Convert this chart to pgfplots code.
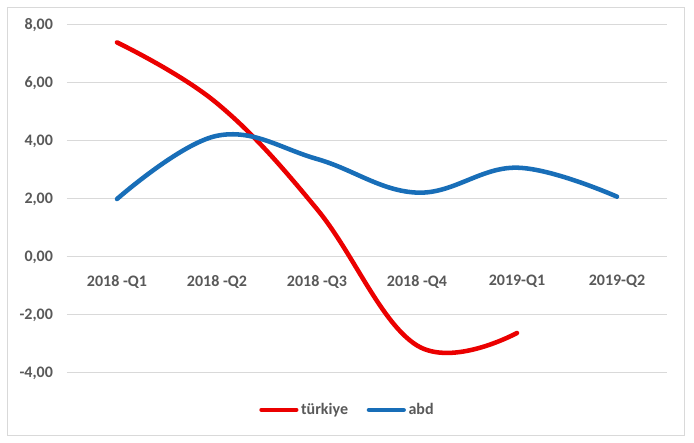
\documentclass[border=0pt]{standalone}
\usepackage{pgfplots}
\pgfplotsset{compat=1.18}
\usepackage{fontspec}
\setmainfont{Carlito}
\definecolor{tred}{RGB}{235,0,0}
\definecolor{abdblue}{RGB}{24,110,184}
\definecolor{lbl}{RGB}{89,89,89}
\definecolor{gridc}{RGB}{217,217,217}
\begin{document}
\begin{tikzpicture}
\fill[white] (0pt,0pt) rectangle (520.5pt,332.25pt);
\draw[gridc, line width=0.75pt] (5.25pt,5.25pt) rectangle (513pt,326.25pt);
\begin{axis}[
  at={(50.25pt,52.5pt)}, anchor=south west,
  scale only axis, width=450pt, height=261pt,
  xmin=-0.5, xmax=5.5, ymin=-4, ymax=8,
  xtick={0,1,2,3,4,5},
  xticklabels={2018 -Q1,2018 -Q2,2018 -Q3,2018 -Q4,2019-Q1,2019-Q2},
  ytick={-4,-2,0,2,4,6,8},
  axis x line*=middle,
  axis y line*=left,
  y axis line style={draw=none},
  x axis line style={gridc, line width=0.75pt, -},
  ymajorgrids, grid style={gridc, line width=0.75pt},
  major tick length=0pt,
  tick label style={font=\fontsize{12}{14}\selectfont\bfseries, text=lbl},
  /pgf/number format/assume math mode=true,
  yticklabel={\pgfmathprintnumber[fixed,fixed zerofill,precision=2,use comma]{\tick}},
  yticklabel style={anchor=east, xshift=-7pt},
  xticklabel style={anchor=north, yshift=-10pt},
  legend columns=2,
  legend style={at={(0.468,-0.106)}, anchor=center, draw=none, fill=none,
    font=\fontsize{12}{14}\selectfont\bfseries, text=lbl,
    /tikz/every even column/.append style={column sep=12pt},
    inner xsep=0pt, inner ysep=0pt},
  legend image code/.code={\draw[#1, line width=3.4pt] (0pt,0pt) -- (26pt,0pt);},
  clip=false,
]
\addplot[tred, line width=3.4pt, smooth, tension=0.65, line cap=round] coordinates {
 (0,7.40) (1,5.30) (2,1.65) (3,-3.05) (4,-2.62)
};
\addlegendentry{türkiye}
\addplot[abdblue, line width=3.4pt, smooth, tension=0.65, line cap=round] coordinates {
 (0,2.00) (1,4.18) (2,3.38) (3,2.22) (4,3.08) (5,2.08)
};
\addlegendentry{abd}
\end{axis}
\end{tikzpicture}
\end{document}
